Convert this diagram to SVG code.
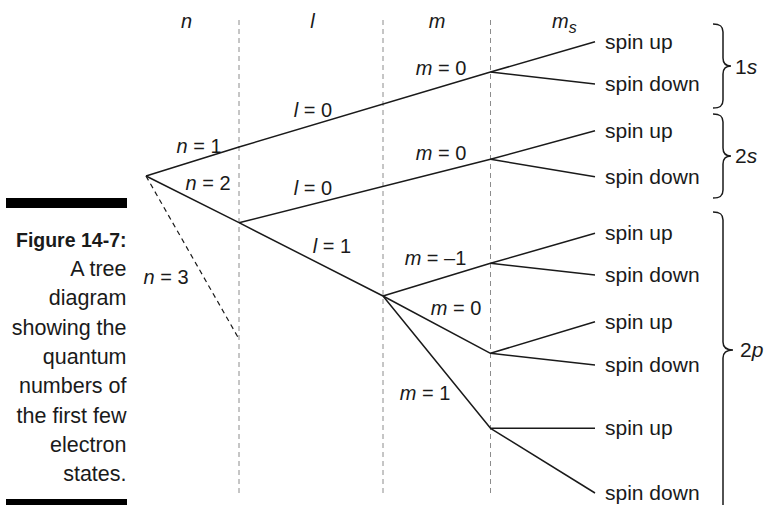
<svg xmlns="http://www.w3.org/2000/svg" width="766" height="505" viewBox="0 0 766 505">
<style>
text{font-family:"Liberation Sans",Arial,sans-serif;fill:#1a1a1a}
.hd{font-size:20px;font-style:italic;text-anchor:middle}
.lb{font-size:20px;text-anchor:middle}
.sp{font-size:21px}
.cap{font-size:21.5px;text-anchor:end}
.capb{font-size:19.5px;font-weight:bold;text-anchor:end}
.it{font-style:italic}
.sh{font-size:21px}
.guide{stroke:#8c8c8c;stroke-width:1;stroke-dasharray:5 4;fill:none}
.br{stroke:#1a1a1a;stroke-width:1.5;fill:none}
.ln{stroke:#1a1a1a;stroke-width:1.5;fill:none;stroke-linejoin:round}
.dl{stroke:#1a1a1a;stroke-width:1.2;fill:none;stroke-dasharray:5 4}
</style>
<rect width="766" height="505" fill="#fff"/>
<g id="guides">
<line class="guide" x1="239" y1="20" x2="239" y2="493"/>
<line class="guide" x1="383" y1="20" x2="383" y2="493"/>
<line class="guide" x1="490.5" y1="20" x2="490.5" y2="493"/>
</g>
<g id="headers">
<text class="hd" x="186.5" y="28.3">n</text>
<text class="hd" x="312.5" y="28.3">l</text>
<text class="hd" x="437" y="28.3">m</text>
<text class="hd" x="552" y="28.3" style="text-anchor:start">m<tspan font-size="16" dy="5">s</tspan></text>
</g>
<g id="caption">
<rect x="6" y="198" width="121" height="10" fill="#000"/>
<text class="capb" x="126.5" y="246.7">Figure 14-7:</text>
<text class="cap" x="126.5" y="276">A tree</text>
<text class="cap" x="126.5" y="305.3">diagram</text>
<text class="cap" x="126.5" y="334.6">showing the</text>
<text class="cap" x="126.5" y="363.9">quantum</text>
<text class="cap" x="126.5" y="393.2">numbers of</text>
<text class="cap" x="126.5" y="422.5">the first few</text>
<text class="cap" x="126.5" y="451.8">electron</text>
<text class="cap" x="126.5" y="481.1">states.</text>
<rect x="6" y="499" width="121" height="10" fill="#000"/>
</g>
<g id="connectors">
<polyline class="ln" points="146,176 239,147 490.5,72 595,41.7"/>
<line class="ln" x1="490.5" y1="72" x2="595" y2="84"/>
<polyline class="ln" points="146,176 239,222.7 383,296"/>
<polyline class="ln" points="239,222.7 490.5,159.3 595,130.7"/>
<line class="ln" x1="490.5" y1="159.3" x2="595" y2="176.7"/>
<polyline class="ln" points="383,296 490.5,263.3 595,233.3"/>
<line class="ln" x1="490.5" y1="263.3" x2="595" y2="275"/>
<polyline class="ln" points="383,296 490.5,353.3 595,321.7"/>
<line class="ln" x1="490.5" y1="353.3" x2="595" y2="365"/>
<polyline class="ln" points="383,296 490.5,428.3 595,428.3"/>
<line class="ln" x1="490.5" y1="428.3" x2="595" y2="493"/>
<line class="dl" x1="146" y1="176" x2="239" y2="339"/>
</g>
<g id="labels">
<text class="lb" x="199" y="153.3"><tspan class="it">n</tspan> = 1</text>
<text class="lb" x="208" y="190"><tspan class="it">n</tspan> = 2</text>
<text class="lb" x="166" y="284"><tspan class="it">n</tspan> = 3</text>
<text class="lb" x="313" y="116.7"><tspan class="it">l</tspan> = 0</text>
<text class="lb" x="313" y="195"><tspan class="it">l</tspan> = 0</text>
<text class="lb" x="332" y="253"><tspan class="it">l</tspan> = 1</text>
<text class="lb" x="441" y="75"><tspan class="it">m</tspan> = 0</text>
<text class="lb" x="441" y="160"><tspan class="it">m</tspan> = 0</text>
<text class="lb" x="435.5" y="265"><tspan class="it">m</tspan> = –1</text>
<text class="lb" x="456" y="315"><tspan class="it">m</tspan> = 0</text>
<text class="lb" x="425" y="400"><tspan class="it">m</tspan> = 1</text>
</g>
<g id="leaves">
<text class="sp" x="605" y="48.7">spin up</text>
<text class="sp" x="605" y="91">spin down</text>
<text class="sp" x="605" y="137.7">spin up</text>
<text class="sp" x="605" y="183.7">spin down</text>
<text class="sp" x="605" y="240.3">spin up</text>
<text class="sp" x="605" y="282">spin down</text>
<text class="sp" x="605" y="328.7">spin up</text>
<text class="sp" x="605" y="372">spin down</text>
<text class="sp" x="605" y="435.3">spin up</text>
<text class="sp" x="605" y="500">spin down</text>
</g>
<g id="shell-1s">
<path class="br" d="M713,24 C720,24 723,26 723,32 L723,58 C723,63 726,66 731,66 C726,66 723,69 723,74 L723,100 C723,106 720,108 713,108"/>
<text class="sh" x="735" y="74">1<tspan class="it">s</tspan></text>
</g>
<g id="shell-2s">
<path class="br" d="M713,114 C720,114 723,116 723,122 L723,148 C723,153 726,156 731,156 C726,156 723,159 723,164 L723,190 C723,196 720,198 713,198"/>
<text class="sh" x="735" y="163">2<tspan class="it">s</tspan></text>
</g>
<g id="shell-2p">
<path class="br" d="M713,212 C720,212 723,214 723,220 L723,342 C723,347 726,350 733,350 C726,350 723,353 723,358 L723,507"/>
<text class="sh" x="740" y="357">2<tspan class="it">p</tspan></text>
</g>
</svg>
